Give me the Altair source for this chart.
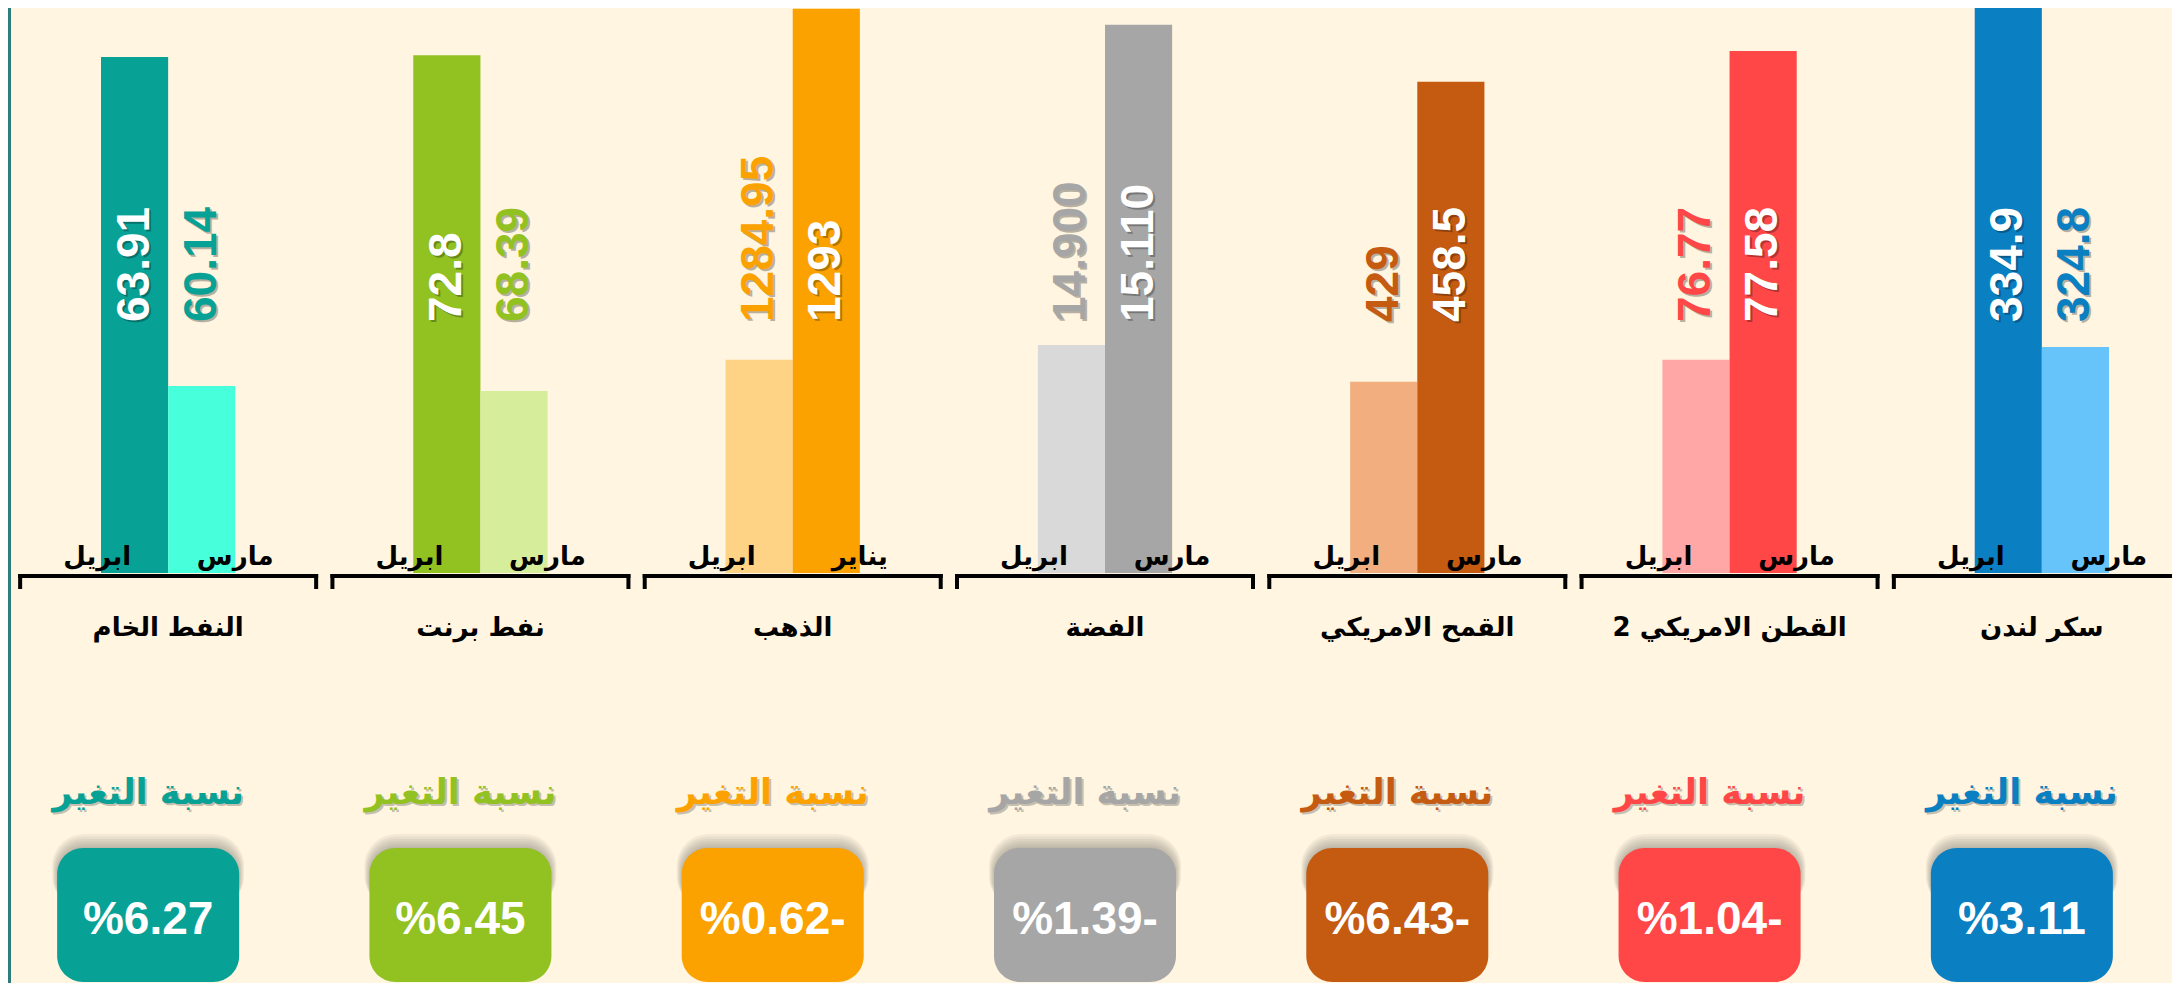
import altair as alt
import pandas as pd

# ---------------- data ----------------
categories = ["النفط الخام", "نفط برنت", "الذهب", "الفضة", "القمح الامريكي", "القطن الامريكي 2", "سكر لندن"]
left_month = ["ابريل", "ابريل", "ابريل", "ابريل", "ابريل", "ابريل", "ابريل"]
right_month = ["مارس", "مارس", "يناير", "مارس", "مارس", "مارس", "مارس"]
left_values = [63.91, 72.8, 1284.95, 14.900, 429, 76.77, 334.9]
right_values = [60.14, 68.39, 1293, 15.110, 458.5, 77.58, 324.8]
left_labels = ["63.91", "72.8", "1284.95", "14.900", "429", "76.77", "334.9"]
right_labels = ["60.14", "68.39", "1293", "15.110", "458.5", "77.58", "324.8"]
change_pct = [6.27, 6.45, -0.62, -1.39, -6.43, -1.04, 3.11]
title_text = "نسبة التغير"

# per-panel value-axis bounds (each small chart has its own axis, as in the source)
axis_min = [58.0, 66.0, 1280.06, 14.7505, 410.2, 76.21, 318.145]
axis_max = [64.47, 73.42, 1293.02, 15.121, 465.76, 77.693, 334.78]

# ---------------- styles ----------------
dark_colors = ["#08A195", "#92C122", "#FBA200", "#A6A6A6", "#C55A11", "#FF4747", "#0A7FC2"]
light_colors = ["#48FFDB", "#D6EE9C", "#FED386", "#D9D9D9", "#F2AE7E", "#FFA6A6", "#66C4FA"]
BG = "#FFF5E0"
AR_FONT = "DejaVu Sans"
NUM_FONT = "Liberation Sans"
W, H = 2164, 975
BASE = 565

rows = []
for i, c in enumerate(categories):
    hi = max(left_values[i], right_values[i])
    for side, m, v, lab in (("a", left_month[i], left_values[i], left_labels[i]),
                            ("b", right_month[i], right_values[i], right_labels[i])):
        rows.append(dict(cat=c, gi=i, side=side, month=m, value=v, label=lab,
                         dark=bool(v == hi), dark_color=dark_colors[i]))
bars_df = pd.DataFrame(rows)


def pct_text(p):
    s = "%" + f"{abs(p):.2f}"
    return s + "-" if p < 0 else s


groups_df = pd.DataFrame(dict(cat=categories, pct=[pct_text(p) for p in change_pct],
                              color=dark_colors, title=[title_text] * len(categories)))

xscale = alt.Scale(domain=categories, range=[4, 2190], paddingInner=0.57, paddingOuter=0.285)
X = alt.X("cat:N", scale=xscale, axis=None)
XO = alt.XOffset("side:N", scale=alt.Scale(domain=["a", "b"], paddingInner=0, paddingOuter=0))

layers = []

# left edge line
layers.append(alt.Chart(pd.DataFrame({"k": [0]})).mark_rule(color="#2F7C7C", strokeWidth=3).encode(
    x=alt.value(1.5), y=alt.value(0), y2=alt.value(H)))

# bars, one layer per panel with its own value scale
for i in range(len(categories)):
    layers.append(
        alt.Chart(bars_df).transform_filter(alt.datum.gi == i).mark_bar().encode(
            x=X, xOffset=XO,
            y=alt.Y("value:Q", scale=alt.Scale(domain=[axis_min[i], axis_max[i]], range=[BASE, 0],
                                               zero=False, nice=False), axis=None),
            y2=alt.datum(axis_min[i]),
            color=alt.condition("datum.dark", alt.value(dark_colors[i]), alt.value(light_colors[i])),
        )
    )

lab_common = dict(angle=270, align="left", baseline="middle", font=NUM_FONT, fontSize=46, fontWeight="bold")
# value label shadows
layers.append(alt.Chart(bars_df).mark_text(color="#000000", opacity=0.28, dx=-2, dy=2, **lab_common).encode(
    x=X, xOffset=XO, y=alt.value(314), text="label:N"))
# dark-bar labels (white, inside)
layers.append(alt.Chart(bars_df).transform_filter("datum.dark").mark_text(color="white", **lab_common).encode(
    x=X, xOffset=XO, y=alt.value(314), text="label:N"))
# light-bar labels (coloured)
layers.append(alt.Chart(bars_df).transform_filter("!datum.dark").mark_text(**lab_common).encode(
    x=X, xOffset=XO, y=alt.value(314), text="label:N",
    color=alt.Color("dark_color:N", scale=None)))

# month labels
mcommon = dict(font=AR_FONT, fontSize=26, fontWeight="bold", color="black", baseline="middle", align="center")
layers.append(alt.Chart(bars_df).transform_filter("datum.side == 'a'").mark_text(dx=-71, **mcommon).encode(
    x=X, y=alt.value(549), text="month:N"))
layers.append(alt.Chart(bars_df).transform_filter("datum.side == 'b'").mark_text(dx=67, **mcommon).encode(
    x=X, y=alt.value(549), text="month:N"))

# brackets
layers.append(alt.Chart(groups_df).mark_bar(width=300, color="black").encode(
    x=X, y=alt.value(566), y2=alt.value(570)))
for off in (-148, 148):
    layers.append(alt.Chart(groups_df).mark_bar(width=4, color="black", xOffset=off).encode(
        x=X, y=alt.value(566), y2=alt.value(581)))

# category names
layers.append(alt.Chart(groups_df).mark_text(font=AR_FONT, fontSize=26, fontWeight="bold", color="black",
                                             baseline="middle", align="center").encode(
    x=X, y=alt.value(620), text="cat:N"))

# titles with shadow
tcommon = dict(font=AR_FONT, fontSize=35, fontWeight="bold", baseline="middle", align="center")
layers.append(alt.Chart(groups_df).mark_text(color="#000000", opacity=0.22, dx=-18, dy=2, **tcommon).encode(
    x=X, y=alt.value(785), text="title:N"))
layers.append(alt.Chart(groups_df).mark_text(dx=-20, **tcommon).encode(
    x=X, y=alt.value(785), text="title:N", color=alt.Color("color:N", scale=None)))

# box shadows
for k in (1, 2, 3, 4, 5, 6):
    layers.append(alt.Chart(groups_df).mark_bar(width=180 + 2 * k, cornerRadius=26 + k, xOffset=-20,
                                                color="#3a3a3a", opacity=0.06).encode(
        x=X, y=alt.value(841 - 2.5 * k), y2=alt.value(900)))
# boxes
layers.append(alt.Chart(groups_df).mark_bar(width=182, cornerRadius=26, xOffset=-20).encode(
    x=X, y=alt.value(840), y2=alt.value(974), color=alt.Color("color:N", scale=None)))
layers.append(alt.Chart(groups_df).mark_text(dx=-20, font=NUM_FONT, fontSize=46, fontWeight="bold",
                                             color="white", baseline="middle", align="center").encode(
    x=X, y=alt.value(912), text="pct:N"))

chart = alt.layer(*layers).resolve_scale(y="independent").properties(
    width=W, height=H, background=BG, padding=0,
    autosize=alt.AutoSizeParams(type="none"),
).configure_view(stroke=None)

chart.save("out.html", embed_options={"renderer": "svg", "actions": False})
